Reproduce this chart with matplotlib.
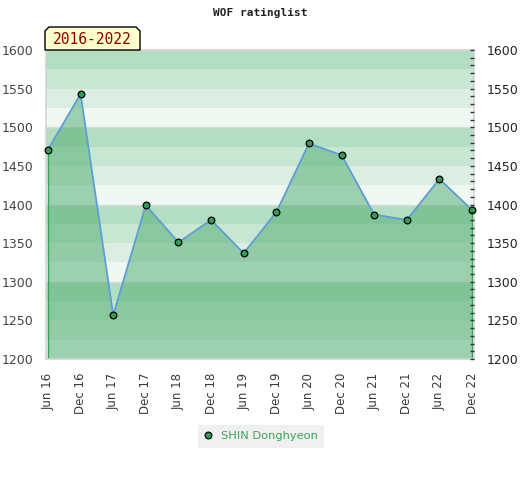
import matplotlib
matplotlib.use('Agg')
import matplotlib.pyplot as plt
from matplotlib.patches import Polygon
from matplotlib.lines import Line2D

# data
periods = ['Jun 16', 'Dec 16', 'Jun 17', 'Dec 17', 'Jun 18', 'Dec 18', 'Jun 19',
           'Dec 19', 'Jun 20', 'Dec 20', 'Jun 21', 'Dec 21', 'Jun 22', 'Dec 22']
ratings = [1471, 1543, 1257, 1399, 1351, 1380, 1337,
           1390, 1479, 1464, 1387, 1380, 1433, 1393]
player = 'SHIN Donghyeon'
span_label = '2016-2022'
y_ticks = [1200, 1250, 1300, 1350, 1400, 1450, 1500, 1550, 1600]

ymin, ymax = 1200, 1600
x = list(range(len(periods)))

fig = plt.figure(figsize=(5.2, 4.8), dpi=100)
ax = fig.add_axes([46 / 520, 1 - 359 / 480, 428 / 520, 309 / 480])

# striped background, 25 points per band
band_colors = ['#eff8f2', '#dceee3', '#c8e7d3', '#b3dec4']
for lo in range(ymin, ymax, 25):
    k = ((lo - ymin) // 25) % 4
    ax.axhspan(lo, lo + 25, color=band_colors[k], lw=0, zorder=0)
for yy in range(1300, ymax + 1, 100):
    ax.axhline(yy, color='#d6ddd8', lw=1, zorder=0.5)

# area, line, markers
ax.fill_between(x, ratings, ymin, facecolor='#4caa6b', alpha=0.5,
                edgecolor='none', zorder=1)
ax.vlines([x[0], x[-1]], ymin, [ratings[0], ratings[-1]], color='#34a853',
          lw=1, zorder=2)
ax.plot(x, ratings, color='#5b9fd6', lw=1.3, zorder=3)
ax.plot(x, ratings, 'o', ms=4.8, mfc='#2e9e55', mec='black', mew=0.9,
        zorder=4, clip_on=False)

ax.set_xlim(-0.06, len(x) - 1 + 0.06)
ax.set_ylim(ymin, ymax)
ax.set_xticks(x)
ax.set_xticklabels(periods, rotation=90, fontsize=8.5, color='#3a3a3a')
ax.tick_params(axis='x', length=0, pad=10)
ax.set_yticks(y_ticks)
ax.tick_params(axis='y', length=0, pad=9, labelsize=9, labelcolor='#444444')
for s in ax.spines.values():
    s.set_color('#d4d4d4')
    s.set_linewidth(1.2)

# right axis with minor ticks
ax2 = ax.twinx()
ax2.set_ylim(ymin, ymax)
ax2.set_yticks(y_ticks)
ax2.set_yticks(range(ymin, ymax + 1, 10), minor=True)
ax2.tick_params(axis='y', which='both', direction='in', length=3, width=1,
                color='#333333', labelsize=9, labelcolor='#222222', pad=9)
for s in ax2.spines.values():
    s.set_visible(False)

# title
fig.text(0.5, 1 - 13 / 480, 'WOF ratinglist', ha='center', va='center',
         family='DejaVu Sans Mono', fontsize=8, fontweight='bold', color='#222222')

# year range tag with clipped top corners
W, H = 520, 480
pts = [(45, 50), (45, 31), (49, 27), (136, 27), (140, 31), (140, 50)]
tag = Polygon([(px / W, 1 - py / H) for px, py in pts], closed=True,
              transform=fig.transFigure, facecolor='#ffffcc', edgecolor='black',
              lw=1, zorder=5)
fig.add_artist(tag)
fig.text(92.5 / W, 1 - 40 / H, span_label, ha='center', va='center',
         family='DejaVu Sans Mono', fontsize=10.5, color='#8b0000', zorder=6)

# legend
handle = Line2D([], [], ls='none', marker='o', ms=4.8, mfc='#2e9e55',
                mec='black', mew=0.9)
leg = fig.legend([handle], [player], loc='center', bbox_to_anchor=(260.5 / W, 1 - 436 / H),
                 frameon=True, fancybox=False, facecolor='#f0f0f0', edgecolor='#f0f0f0',
                 framealpha=1, fontsize=8.2, handlelength=0.8, handletextpad=0.7,
                 borderpad=0.5, labelcolor='#3aa655')

fig.savefig('out.png', dpi=100)
